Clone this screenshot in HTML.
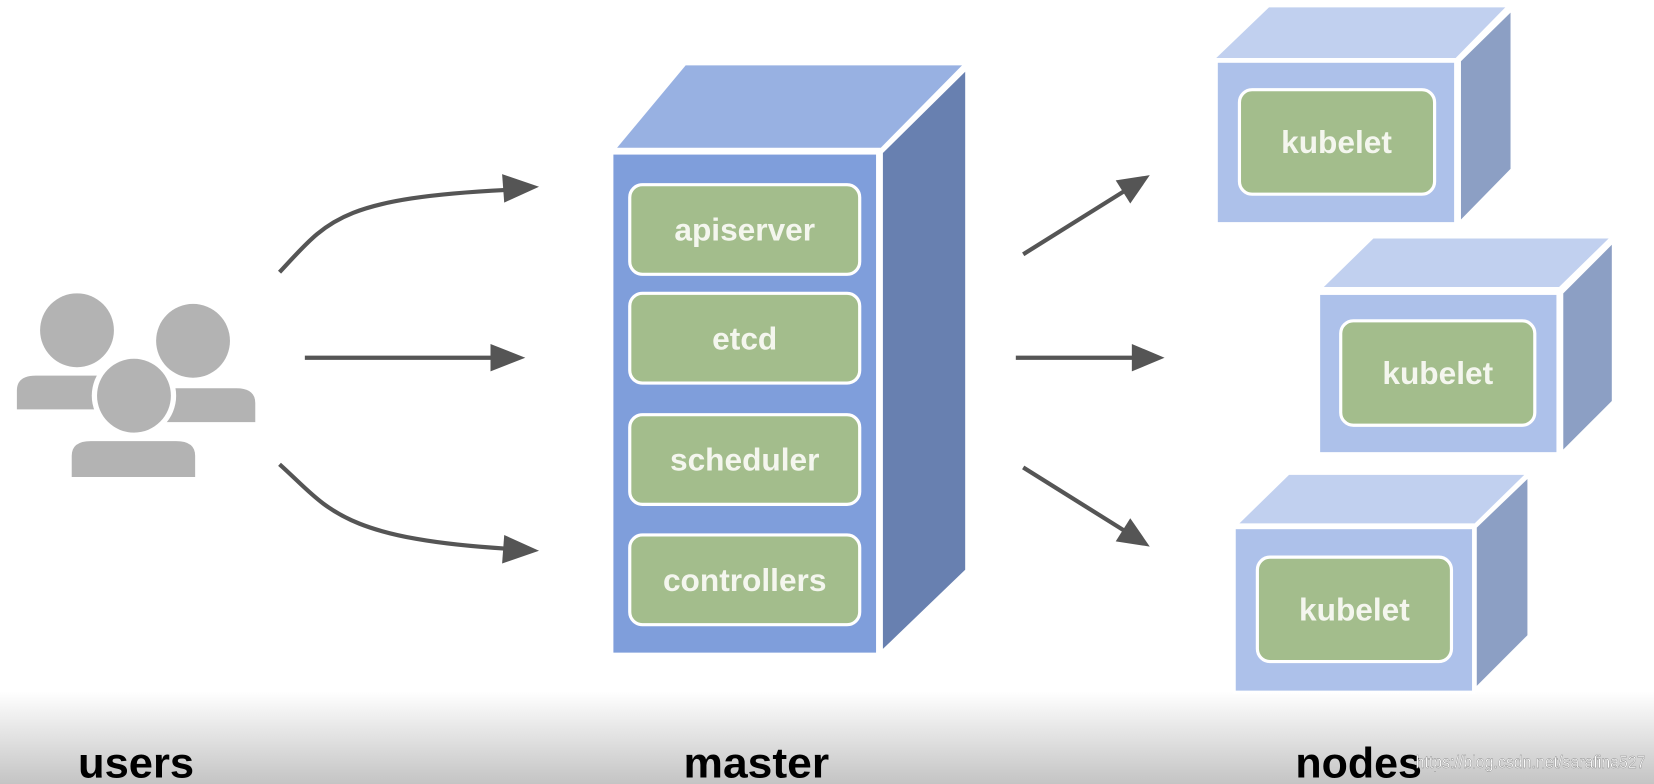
<!DOCTYPE html>
<html><head><style>html,body{margin:0;padding:0;background:#fff}svg{display:block}</style></head><body>
<svg width="1654" height="784" viewBox="0 0 1568 743" preserveAspectRatio="none" xmlns="http://www.w3.org/2000/svg" font-family="Liberation Sans, sans-serif">
<defs>
<linearGradient id="bg" x1="0" y1="0" x2="0" y2="1"><stop offset="0" stop-color="#fff"/><stop offset="1" stop-color="#c4c4c4"/></linearGradient>
</defs>
<rect x="0" y="655" width="1568" height="88" fill="url(#bg)"/>
<!-- users -->
<g fill="#b3b3b3">
<circle cx="73" cy="313" r="35"/><path d="M16,388 V370 Q16,356 34,356 H117 Q135,356 135,370 V388z"/>
<circle cx="183" cy="323" r="35"/><path d="M148,400 V382 Q148,368 166,368 H224 Q242,368 242,382 V400z"/>
<circle cx="127" cy="375" r="40" fill="#fff"/><circle cx="127" cy="375" r="35"/>
<path d="M60,456 V430 Q60,412 80,412 H174 Q192,412 192,430 V456z" fill="#fff"/>
<path d="M68,452 V432 Q68,418 86,418 H167 Q185,418 185,432 V452z"/>
</g>
<!-- arrows -->
<g stroke="#555" stroke-width="4" fill="none">
<path d="M265,258 C310,210 320,188 480,180"/>
<path d="M289,339 H468"/>
<path d="M265,440 C310,480 320,510 480,520"/>
<path d="M970,241 L1066,181"/>
<path d="M963,339 H1075"/>
<path d="M970,443 L1066,503"/>
</g>
<g fill="#555">
<polygon points="476,165 511,177 478,192"/>
<polygon points="465,326 498,339 465,352"/>
<polygon points="478,507 511,522 476,534"/>
<polygon points="1071.5,192.9 1090,166 1057.7,170.9"/>
<polygon points="1073,326 1104,339 1073,352"/>
<polygon points="1057.7,513.1 1090,518 1071.5,491.1"/>
</g>
<!-- master -->
<polygon points="585,140 650,62 912,62 835,140" fill="#98b1e2"/>
<polygon points="837,145 915,68 915,540 837,615" fill="#6880b0"/>
<rect x="580" y="145" width="252" height="475" fill="#7f9edb" stroke="#fff" stroke-width="3"/>
<g fill="#a3bd8c" stroke="#fff" stroke-width="3">
<rect x="597" y="175" width="218" height="85" rx="12"/>
<rect x="597" y="278" width="218" height="85" rx="12"/>
<rect x="597" y="393" width="218" height="85" rx="12"/>
<rect x="597" y="507" width="218" height="85" rx="12"/>
</g>
<g fill="#f4f6ee" font-weight="bold" font-size="30" text-anchor="middle">
<text x="706" y="228">apiserver</text>
<text x="706" y="331">etcd</text>
<text x="706" y="446">scheduler</text>
<text x="706" y="560">controllers</text>
</g>
<!-- nodes -->
<g>
<polygon points="1153,55 1203,7 1427,7 1380,55" fill="#c1d0ef"/>
<polygon points="1385,58 1432,12 1432,160 1385,208" fill="#8c9fc4"/>
<rect x="1153" y="58" width="227" height="154" fill="#adc1ea" stroke="#fff" stroke-width="3"/>
<rect x="1175" y="85" width="185" height="99" rx="12" fill="#a3bd8c" stroke="#fff" stroke-width="3"/>
<polygon points="1255,272 1302,226 1525,226 1478,272" fill="#c1d0ef"/>
<polygon points="1482,278 1528,232 1528,380 1482,426" fill="#8c9fc4"/>
<rect x="1250" y="278" width="227" height="152" fill="#adc1ea" stroke="#fff" stroke-width="3"/>
<rect x="1271" y="304" width="184" height="99" rx="12" fill="#a3bd8c" stroke="#fff" stroke-width="3"/>
<polygon points="1175,496 1222,450 1445,450 1398,496" fill="#c1d0ef"/>
<polygon points="1400,500 1448,454 1448,602 1400,650" fill="#8c9fc4"/>
<rect x="1170" y="500" width="227" height="156" fill="#adc1ea" stroke="#fff" stroke-width="3"/>
<rect x="1192" y="528" width="184" height="99" rx="12" fill="#a3bd8c" stroke="#fff" stroke-width="3"/>
</g>
<g fill="#f4f6ee" font-weight="bold" font-size="30" text-anchor="middle">
<text x="1267" y="145">kubelet</text>
<text x="1363" y="364">kubelet</text>
<text x="1284" y="588">kubelet</text>
</g>
<g font-weight="bold" font-size="40" fill="#000">
<text x="74" y="737" textLength="110" lengthAdjust="spacingAndGlyphs">users</text>
<text x="648" y="737" textLength="138" lengthAdjust="spacingAndGlyphs">master</text>
<text x="1228" y="737" textLength="120" lengthAdjust="spacingAndGlyphs">nodes</text>
</g>
<text x="1342" y="728" font-size="17" fill="#fff" stroke="#888" stroke-width="0.4" textLength="218" lengthAdjust="spacingAndGlyphs">https://blog.csdn.net/sarafina527</text>
</svg>
</body></html>
